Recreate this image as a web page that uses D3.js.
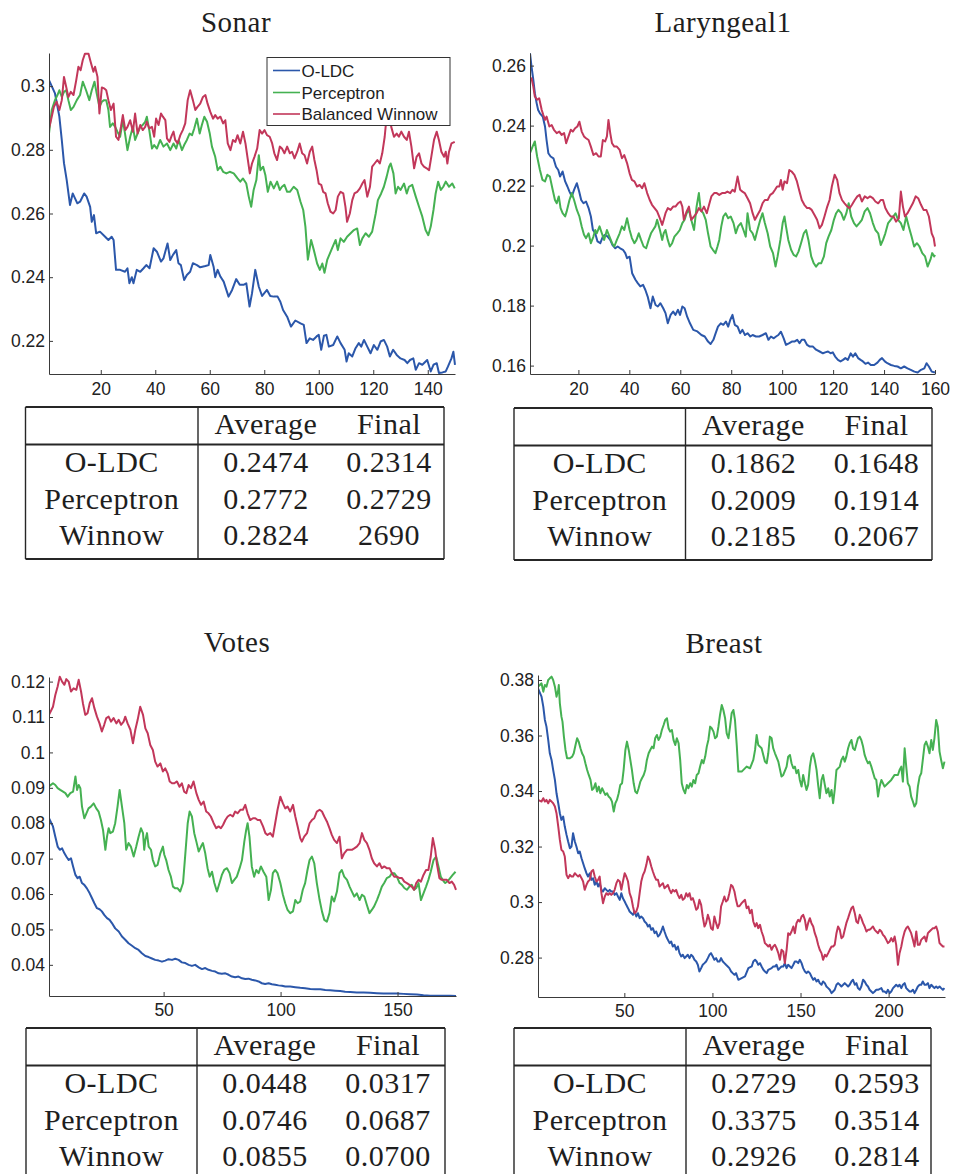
<!DOCTYPE html>
<html>
<head>
<meta charset="utf-8">
<script src="https://cdn.jsdelivr.net/npm/d3@7"></script>
<style>
  html, body { margin: 0; padding: 0; background: #fff; }
  svg { display: block; }
  .tick text { font-family: "Liberation Sans", Arial, sans-serif; font-size: 17.5px; fill: #222; }
  .tick line, .domain { stroke: #3a3a3a; }
</style>
</head>
<body>
<svg id="fig" width="954" height="1174"></svg>
<script>
// ---------- Series: [iteration, error rate] ----------
const sonarOLDC = [[1,.3019],[3.2,.2977],[4.8,.2904],[5.7,.283],[6.5,.2758],[7.5,.2705],[8.7,.2627],[9.7,.2663],[11.4,.2632],[12.4,.2637],[13.9,.2663],[14.8,.2653],[16.1,.2621],[16.7,.2574],[17.5,.2595],[18.3,.2538],[19.7,.2543],[21.6,.2527],[22.8,.2517],[24,.2527],[24.7,.2517],[25.6,.2423],[27.1,.2423],[28.9,.2417],[29.8,.2428],[30.5,.2381],[31.4,.24],[32,.2381],[33.2,.2423],[34.5,.2417],[35.7,.2428],[36.7,.2438],[37.9,.2428],[39.4,.2491],[40.6,.248],[42.1,.2449],[43,.2459],[44.5,.2506],[45.5,.2454],[46.5,.247],[47.7,.2485],[48.5,.2444],[49.4,.2438],[50.6,.2391],[51.6,.2407],[52.8,.2417],[53.8,.2444],[55.3,.2438],[56.5,.2431],[58.4,.2435],[59.6,.2438],[60.2,.247],[61.4,.2433],[62,.24],[62.9,.2423],[63.9,.2402],[65.1,.2386],[66.9,.2339],[68.2,.236],[69.7,.2394],[71,.2376],[72.4,.2376],[73.4,.2381],[74.6,.2308],[75.5,.2349],[76.7,.2423],[78,.237],[79.2,.2341],[81,.236],[82.2,.2341],[83.5,.2339],[84.9,.2339],[85.9,.2323],[86.9,.2297],[88.4,.2276],[89.8,.2245],[91.4,.2264],[93.3,.2255],[94.5,.225],[95.5,.2193],[96.7,.2208],[97.9,.2203],[99.2,.2214],[100,.2219],[100.9,.2172],[101.9,.2216],[102.8,.2219],[103.7,.2182],[105.3,.2187],[106.8,.2214],[108,.2193],[109.5,.2172],[110.2,.2135],[111,.2161],[112.3,.2151],[113.5,.2177],[114.7,.2193],[115.6,.2182],[116.6,.2203],[117.8,.2182],[119,.2161],[120.2,.2187],[121.5,.2172],[122.7,.2198],[123.9,.2203],[125.1,.2182],[126.1,.2151],[127.3,.2172],[128.6,.2156],[130,.2145],[131.5,.214],[132.5,.213],[133.5,.214],[134.7,.2145],[135.6,.2109],[136.8,.213],[138,.2125],[139.8,.214],[141.1,.2104],[142.1,.2125],[143.3,.213],[144.1,.2099],[145.4,.2101],[146.6,.2104],[147.4,.2119],[148.7,.2145],[149.4,.2166],[150,.2125]];
const sonarPerceptron = [[1,.2851],[2,.2925],[3.2,.2956],[4.1,.2972],[4.8,.2987],[5.7,.2966],[6.5,.2982],[7.3,.2987],[8.1,.2956],[9,.2925],[10,.2935],[11.2,.2956],[12.4,.2972],[13.4,.3014],[14.6,.2987],[15.8,.2956],[16.7,.2987],[17.7,.3014],[18.5,.2977],[19.5,.2935],[20.4,.2951],[21.2,.2956],[22,.2956],[22.8,.2925],[23.4,.2872],[24.4,.2883],[25.3,.2872],[26.1,.2857],[27.1,.2841],[28.1,.2893],[28.9,.2851],[29.8,.2799],[30.8,.2841],[31.8,.2872],[32.6,.2831],[33.5,.2851],[34.5,.2872],[35.4,.2878],[36.3,.2888],[36.9,.2904],[37.8,.2862],[38.8,.2804],[39.6,.2815],[40.6,.2804],[41.8,.2831],[43,.281],[44.3,.282],[45.5,.2799],[46.7,.282],[47.7,.2804],[48.6,.2831],[49.8,.2799],[50.6,.2815],[51.6,.2831],[52.6,.2851],[53.5,.2846],[54.3,.2867],[55.3,.2898],[56.3,.2851],[57.1,.2878],[58,.2904],[59,.2888],[60,.2851],[60.8,.281],[62,.2778],[62.9,.2736],[63.9,.2747],[64.9,.2731],[66.1,.2726],[67.3,.2731],[68.8,.2726],[70.2,.271],[71.2,.27],[72.2,.271],[73.4,.2694],[74.3,.2653],[75.2,.2621],[76.1,.2674],[77.1,.2705],[78,.2783],[78.6,.2736],[79.6,.2747],[80.4,.2721],[81.3,.2668],[82.3,.27],[83.5,.2679],[84.7,.27],[85.7,.2674],[86.5,.2684],[87.4,.269],[88.4,.2668],[89.4,.2668],[90.8,.2684],[92.1,.2674],[93.3,.2637],[94.3,.2611],[95.1,.2559],[96,.2455],[97.2,.2517],[98.2,.2485],[99.4,.2443],[100.4,.2423],[101.3,.2443],[102.1,.2414],[103.1,.2454],[104.1,.2475],[104.9,.2491],[106.2,.2517],[107,.2485],[108,.2522],[109.2,.2511],[110.4,.2527],[111.7,.2538],[112.9,.2548],[114.1,.2553],[115.1,.2501],[116,.2522],[117.2,.2538],[118.4,.2527],[119.6,.2543],[120.9,.26],[121.7,.2642],[122.9,.2663],[123.9,.2684],[124.9,.2715],[125.8,.2747],[126.4,.2757],[127.4,.2726],[128.2,.2663],[129.1,.2684],[130,.2674],[131.3,.2694],[132.3,.2663],[133.1,.2684],[134.3,.269],[135.6,.2653],[136.8,.2621],[138,.259],[139.2,.2548],[140.2,.2532],[141.1,.2559],[142.1,.2611],[142.9,.2663],[143.8,.27],[144.8,.2674],[145.7,.2684],[146.6,.27],[147.8,.2684],[149,.2694],[149.9,.2679]];
const sonarWinnow = [[1,.2867],[2,.2904],[2.8,.2935],[3.8,.2951],[4.8,.2925],[5.7,.2956],[6.5,.3029],[7.3,.2998],[8.1,.2966],[9,.2982],[10,.2972],[11,.3019],[11.8,.3061],[12.6,.305],[13.4,.3082],[14.2,.3102],[15.5,.3102],[16.3,.3076],[17.3,.3045],[17.9,.3061],[18.8,.3029],[19.5,.2914],[20.4,.2996],[21.2,.2993],[22,.2987],[22.8,.2956],[23.7,.2925],[24.7,.2945],[25.6,.2841],[26.5,.2831],[27.4,.2872],[28.1,.2909],[29,.2862],[29.8,.2872],[30.8,.2893],[31.8,.2857],[32.6,.2914],[33.5,.2851],[34.5,.2878],[35.4,.2862],[36.3,.2872],[36.9,.2888],[37.8,.2867],[38.8,.2872],[39.6,.2841],[40.3,.2898],[41.2,.2878],[42.1,.2914],[42.8,.2904],[43.7,.2893],[44.3,.2836],[45.2,.2825],[46.1,.2846],[46.7,.2857],[47.3,.2831],[48.2,.282],[49.2,.2846],[50.1,.2862],[51,.2883],[51.9,.2956],[52.8,.2987],[53.8,.2956],[54.7,.2925],[55.5,.2935],[56.5,.2945],[57.5,.2966],[58.4,.2972],[59.2,.2945],[60.2,.2919],[61.2,.2898],[62,.2909],[62.9,.2898],[63.9,.2904],[64.9,.2883],[65.7,.2893],[66.6,.282],[67.6,.2799],[68.5,.2831],[69.4,.2825],[70.2,.2846],[71.2,.282],[72.2,.2857],[73.1,.282],[73.9,.2773],[74.7,.2726],[75.5,.2757],[76.4,.2778],[77.4,.2804],[78.3,.2862],[79.2,.2851],[80.1,.2862],[81,.2846],[82,.2841],[82.9,.282],[83.7,.2789],[84.7,.2768],[85.7,.281],[86.5,.2804],[87.4,.2789],[88.4,.281],[89.4,.2789],[90.2,.2794],[91.1,.2773],[92.1,.2794],[93,.282],[93.9,.2789],[94.8,.2783],[95.7,.2757],[96.7,.2794],[97.6,.281],[98.4,.2768],[99.2,.2736],[100,.2694],[100.9,.269],[101.6,.2668],[102.5,.2663],[103.3,.2632],[104.3,.2606],[105.3,.26],[106.2,.2611],[107,.2653],[108,.2668],[109,.2663],[109.8,.2621],[110.4,.2574],[111.4,.26],[112.3,.2642],[113.1,.2663],[114.1,.2668],[115.1,.2679],[116,.2694],[116.8,.2705],[117.8,.2653],[118.8,.2684],[119.6,.2747],[120.5,.2757],[121.5,.2768],[122.4,.2757],[123.3,.2789],[124.2,.2841],[124.9,.2904],[125.8,.2919],[126.6,.2872],[127.6,.2841],[128.6,.2851],[129.4,.2841],[130.3,.2857],[131.3,.2841],[132.3,.2831],[133.1,.2857],[134,.281],[135,.2742],[135.9,.2778],[136.8,.2789],[137.7,.2757],[138.6,.2747],[139.6,.2742],[140.5,.2736],[141.3,.2778],[142.3,.2831],[143.3,.2857],[144.1,.2831],[145,.2794],[146,.2778],[146.6,.2794],[147.2,.2757],[147.8,.2794],[148.7,.282],[149.9,.2825]];

const laryngealOLDC = [[1,.2641],[1.6,.2597],[2.3,.2552],[2.9,.2508],[3.6,.2475],[4.2,.2452],[4.9,.2441],[6,.243],[6.9,.2397],[7.5,.2352],[8.2,.2308],[9.1,.2297],[10.2,.2291],[11.2,.2263],[12.1,.2252],[12.8,.223],[13.8,.2247],[14.8,.2214],[15.7,.2197],[16.5,.218],[17.4,.2164],[18.3,.2186],[19.4,.2208],[20.3,.218],[21.1,.2152],[22,.2141],[23,.2147],[24,.2125],[24.9,.2097],[25.7,.2052],[26.6,.2041],[27.5,.2014],[28.6,.2008],[29.6,.203],[30.5,.2036],[31.5,.203],[32.5,.2019],[33.4,.2002],[34.5,.1991],[35.4,.1997],[36.4,.1991],[37.5,.1986],[38.4,.1975],[39.1,.1958],[40.1,.1963],[41.1,.1908],[42.4,.1886],[43.3,.1875],[44.3,.1864],[45.4,.1869],[46.3,.1852],[47.2,.183],[48.3,.1791],[49.2,.183],[50.3,.1802],[51.2,.1797],[52.2,.1808],[53.3,.1791],[54.2,.1775],[55.1,.1741],[56.2,.1769],[57.2,.178],[58.1,.1769],[59.1,.1786],[59.9,.1769],[60.8,.1797],[61.7,.1791],[62.7,.1763],[63.8,.1741],[65.1,.1719],[66.7,.1714],[68.3,.1702],[69.6,.1697],[70.9,.168],[71.9,.1672],[73,.1686],[73.9,.1708],[74.8,.173],[75.9,.1741],[76.9,.1736],[77.9,.1747],[78.8,.173],[79.6,.1752],[80.5,.1769],[81.4,.1736],[82.5,.173],[83.5,.1708],[84.4,.1719],[85.4,.1702],[86.4,.1708],[87.5,.1697],[88.4,.1702],[89.7,.1697],[91,.1697],[92.3,.1702],[93.6,.1708],[94.6,.1686],[95.6,.1697],[96.7,.1691],[97.6,.1697],[98.5,.1702],[99.5,.1713],[100.6,.1691],[101.5,.1669],[102.8,.1675],[103.8,.168],[104.8,.168],[105.9,.1686],[106.8,.1675],[107.7,.1686],[108.7,.1686],[109.8,.1669],[110.7,.1664],[112,.1664],[113.3,.1653],[114.7,.1647],[116,.1641],[116.9,.1644],[118,.1647],[119,.1641],[119.9,.1644],[120.8,.163],[121.9,.1619],[122.9,.1614],[123.9,.1619],[124.8,.1625],[125.8,.1619],[126.9,.1641],[127.8,.163],[128.7,.1641],[129.8,.1625],[130.8,.1619],[131.7,.1614],[132.7,.1606],[133.7,.161],[134.8,.1602],[136.1,.1602],[137.4,.161],[138.3,.1619],[139.2,.1625],[140.3,.1614],[141.3,.1608],[142.7,.1602],[144,.1599],[145.3,.1597],[146.6,.1591],[147.9,.1597],[149.2,.1591],[150.5,.1586],[151.9,.158],[153.2,.1577],[154.5,.1586],[155.8,.1591],[156.7,.1608],[157.6,.1597],[158.7,.158],[160,.1577]];
const laryngealPerceptron = [[1,.2308],[2,.233],[2.9,.2347],[3.8,.2297],[4.9,.2252],[5.9,.2219],[6.9,.2214],[7.8,.2236],[8.8,.223],[9.9,.2186],[10.8,.2152],[11.5,.2141],[12.3,.2164],[13,.2125],[13.8,.2108],[14.8,.2097],[15.4,.2114],[16.5,.2152],[17.4,.2175],[18.3,.2152],[19.4,.2119],[20.4,.2097],[21.3,.2064],[22.2,.2036],[23,.2025],[24,.2041],[24.9,.2008],[25.9,.203],[26.6,.2052],[27.2,.2041],[28.3,.2064],[29.2,.2041],[30.1,.2019],[31.2,.2052],[32.2,.203],[33.2,.2008],[34.1,.1997],[35.1,.2019],[36.2,.2041],[37.1,.2064],[38,.2052],[39.1,.2091],[40.1,.2052],[41,.2025],[42,.2008],[42.8,.2019],[43.7,.2041],[44.6,.2019],[45.6,.1997],[46.6,.1991],[47.6,.2019],[48.5,.2041],[49.3,.2052],[50.2,.2064],[50.9,.2086],[52,.2052],[52.9,.2019],[53.5,.2041],[54.2,.2052],[55.1,.2019],[55.9,.1997],[56.8,.2008],[57.7,.203],[58.8,.2041],[59.8,.2052],[60.8,.2075],[61.7,.2086],[62.5,.2108],[63.4,.2119],[64.3,.2086],[65.4,.2052],[66.4,.213],[67.3,.2175],[68,.2119],[69,.2108],[70,.2086],[70.9,.2041],[71.9,.1997],[72.8,.1986],[73.8,.1975],[74.6,.1997],[75.3,.2019],[76.1,.2064],[76.9,.2097],[77.8,.2108],[78.8,.2091],[79.8,.2097],[80.9,.2075],[81.8,.2041],[82.7,.2064],[83.8,.2075],[84.8,.2052],[85.7,.203],[86.4,.2108],[87.4,.2052],[88.4,.2041],[89.3,.2019],[90.3,.2052],[91.4,.2086],[92.3,.2108],[93.2,.2075],[94.3,.2041],[95.3,.1997],[96.4,.1975],[97.4,.193],[98.2,.1964],[99.3,.2019],[100.2,.2075],[100.9,.2097],[101.5,.2064],[102.4,.2019],[103.5,.1986],[104.5,.1969],[105.5,.1964],[106.4,.198],[107.4,.2008],[108.5,.2041],[109.4,.2052],[110.3,.2019],[111.4,.1964],[112.4,.1941],[113.3,.193],[114.3,.1941],[115.3,.1941],[116.4,.1964],[117.3,.2008],[118.2,.203],[119.3,.2052],[120.3,.2086],[121.2,.2108],[122.1,.2119],[123.2,.2108],[124.2,.2086],[125.2,.2108],[126.1,.2141],[127.1,.2097],[128.2,.2075],[129.2,.2064],[130.3,.2075],[131.3,.2086],[132.4,.2114],[133.5,.2125],[134.5,.2108],[135.6,.2075],[136.6,.2052],[137.7,.2041],[138.7,.2002],[139.6,.2019],[140.5,.2041],[141.6,.2075],[142.6,.2086],[143.6,.2097],[144.5,.2108],[145.5,.2086],[146.6,.2075],[147.6,.2052],[148.7,.2097],[149.7,.2064],[150.8,.203],[151.8,.1997],[152.9,.2008],[153.9,.1997],[155,.1975],[156.1,.1964],[157.1,.193],[158.2,.1953],[158.9,.1975],[159.7,.1964],[160,.1969]];
const laryngealWinnow = [[1,.2552],[1.6,.2558],[2.3,.253],[2.9,.2497],[3.8,.2486],[4.6,.2491],[5.6,.2452],[6.2,.2436],[6.9,.2419],[7.5,.243],[8.6,.2397],[9.5,.2402],[10.4,.2386],[11.5,.2375],[12.5,.238],[13.4,.2369],[14.4,.2375],[15.2,.2341],[16.1,.2364],[17,.2386],[17.8,.238],[18.7,.2391],[19.6,.2397],[20.4,.2413],[21.3,.238],[22.2,.2364],[23,.2358],[24,.2352],[24.9,.233],[25.9,.2302],[27,.2308],[27.9,.2297],[28.8,.2297],[29.6,.2352],[30.5,.2347],[31.2,.2364],[31.8,.2419],[32.5,.2375],[33.2,.2341],[34.1,.233],[35.1,.233],[36.2,.2319],[37.1,.2291],[38,.2302],[39.1,.2275],[40.1,.2241],[41,.2219],[42,.2214],[43,.2197],[44.1,.2202],[45,.2191],[45.9,.2208],[47,.2175],[48,.2152],[48.9,.2136],[49.9,.2125],[50.9,.2114],[52,.2091],[52.9,.2069],[53.5,.2086],[54.2,.2108],[55.1,.2125],[56.2,.2119],[57.2,.213],[58.1,.213],[59.1,.2141],[60.1,.2147],[60.8,.213],[61.4,.2086],[62.5,.2114],[63.4,.213],[64.3,.2086],[65.4,.2097],[66.4,.2108],[67.3,.2125],[68.3,.2114],[69.3,.213],[70.4,.2108],[71.3,.2136],[72.2,.2164],[73.3,.2175],[74.3,.2175],[75.3,.2169],[76.4,.2175],[77.5,.2175],[78.5,.218],[79.6,.2175],[80.5,.2186],[81.4,.218],[82.5,.223],[83.5,.2186],[84.4,.218],[85.3,.2175],[86.4,.2158],[87.4,.2141],[88.4,.2108],[89.3,.2086],[90.3,.2102],[91.4,.2119],[92.3,.2141],[93.2,.2152],[94.3,.2152],[95.3,.2169],[96.3,.2175],[97.2,.2186],[98,.2197],[98.9,.2197],[99.5,.2219],[100.2,.2186],[100.9,.2214],[101.9,.2208],[102.8,.2252],[103.7,.2247],[104.8,.2236],[105.8,.2214],[106.8,.218],[107.7,.2152],[108.7,.2136],[109.8,.2125],[110.7,.2125],[111.6,.2119],[112.7,.2102],[113.7,.2086],[114.7,.2058],[115.6,.2069],[116.6,.2097],[117.7,.213],[118.6,.2152],[119.5,.2197],[120.6,.2236],[121.6,.2219],[122.5,.2175],[123.5,.2152],[124.5,.2141],[125.6,.213],[126.5,.2125],[127.4,.2136],[128.5,.2152],[129.5,.2164],[130.4,.2169],[131.3,.2147],[132.4,.2164],[133.5,.2158],[134.5,.2164],[135.6,.2158],[136.6,.2147],[137.7,.2141],[138.7,.2152],[139.6,.2152],[140.5,.2125],[141.6,.2108],[142.6,.2097],[143.7,.2097],[144.7,.208],[145.8,.2091],[146.6,.218],[147.4,.213],[148.2,.2097],[149.2,.2108],[150.3,.2125],[151.3,.2141],[152.4,.2164],[153.4,.2158],[154.5,.2136],[155.5,.2119],[156.6,.2119],[157.6,.2097],[158.7,.2041],[159.5,.2025],[160,.1997]];

const votesOLDC = [[1,.0814],[2.7,.0791],[3.7,.0762],[4.7,.0734],[5.6,.0725],[6.6,.0729],[7.6,.0715],[8.4,.0706],[9.4,.0696],[10.4,.0701],[11.3,.0678],[12.3,.0654],[13.2,.0645],[14.1,.0649],[15.1,.0631],[16.1,.0626],[17.2,.0616],[18.4,.0602],[19.4,.0588],[20.4,.0574],[21.5,.056],[22.6,.0557],[23.6,.0551],[24.6,.0541],[25.8,.0532],[26.9,.0527],[27.9,.0518],[29.3,.0503],[30.8,.0494],[32.2,.048],[33.6,.0471],[35,.0461],[36.5,.0454],[37.9,.0447],[39.3,.0442],[40.7,.0433],[42.2,.0425],[43.6,.0422],[45,.0418],[46.4,.0414],[47.9,.0412],[49.3,.0409],[50.7,.0412],[52.1,.0416],[53.6,.0414],[55,.0417],[56.4,.0414],[57.8,.0407],[59.3,.0405],[60.7,.04],[62.1,.0397],[63.5,.04],[65,.0393],[66.4,.0388],[67.8,.0391],[69.2,.0386],[70.7,.0383],[72.1,.0381],[73.5,.0376],[74.9,.0375],[76.4,.0376],[77.8,.0372],[79.2,.0367],[80.6,.0365],[82,.0367],[83.5,.0362],[84.9,.036],[86.3,.0361],[87.7,.0358],[89.2,.0356],[90.6,.0353],[92,.0348],[93.4,.0346],[94.9,.0348],[96.3,.0345],[97.7,.0344],[99.1,.0342],[100.6,.0341],[102,.0339],[104.1,.0339],[106.3,.0337],[108.4,.0335],[110.5,.0334],[112.7,.0332],[114.8,.0331],[117,.0331],[119.1,.0329],[121.2,.0328],[123.4,.0327],[125.5,.0326],[127.6,.0324],[129.8,.0323],[132.6,.0322],[135.5,.0322],[138.3,.0321],[141.2,.032],[144,.0319],[146.9,.0319],[149.7,.0319],[152.6,.0318],[155.4,.0317],[158.3,.0316],[161.1,.0314],[164,.0313],[166.8,.0313],[169.7,.0313],[172.5,.0313],[175,.0312]];
const votesPerceptron = [[1,.0904],[2.7,.0913],[3.7,.0908],[4.7,.0899],[5.8,.0894],[7,.0889],[8,.0885],[9,.0875],[10.1,.0885],[11.3,.0889],[12.3,.0932],[13,.0894],[13.7,.0908],[14.4,.0899],[15.1,.0847],[16.1,.0814],[17,.0828],[17.9,.0842],[18.9,.0847],[20.1,.0856],[21.2,.0842],[22.2,.0833],[23.2,.0809],[24.1,.0781],[25.1,.0725],[25.8,.0762],[26.5,.0786],[27.2,.0772],[28.3,.0776],[29.3,.08],[30.3,.0847],[31.2,.0894],[32.2,.0847],[33.2,.08],[34,.0725],[35,.0744],[36,.0734],[37.2,.0706],[38.3,.0734],[39.3,.0762],[40.3,.0786],[41.2,.0772],[41.7,.0725],[42.2,.0753],[42.9,.0772],[43.6,.0734],[44.6,.0725],[45.4,.0696],[46.4,.0678],[47.4,.0682],[48.6,.0715],[49.7,.0734],[50.3,.0711],[51.1,.0696],[52.1,.0668],[53.1,.0649],[54,.0621],[55,.0616],[56,.0616],[57.1,.0607],[58.3,.0631],[59.3,.0715],[60.3,.08],[61.1,.0833],[62.1,.0819],[63.1,.0772],[64,.0748],[65,.072],[66,.0734],[66.8,.0744],[67.8,.0715],[68.8,.0673],[69.7,.0649],[70.7,.0663],[71.7,.0631],[72.8,.0607],[73.9,.0631],[74.9,.0654],[75.9,.0668],[77.1,.0673],[78.2,.0659],[79.2,.0631],[80.2,.064],[81.3,.0649],[82.5,.0673],[83.5,.0696],[84.5,.0748],[85.3,.0781],[85.9,.08],[86.7,.0762],[87.7,.0678],[88.7,.0649],[89.6,.0668],[90.6,.0659],[91.6,.0678],[92.7,.0663],[93.9,.0649],[94.9,.0583],[95.9,.0612],[96.7,.0659],[97.7,.0668],[98.7,.0659],[99.9,.0631],[101,.0598],[102,.0574],[103,.0555],[104.1,.0546],[105.3,.0551],[106.3,.0583],[107.3,.0574],[108.4,.0579],[109.5,.0612],[110.5,.0631],[111.5,.0668],[112.4,.0696],[113.4,.0706],[114.4,.0687],[115.5,.0631],[116.7,.0583],[117.7,.0551],[118.7,.0527],[119.8,.0522],[120.9,.0546],[121.9,.0593],[122.9,.0579],[124.1,.0607],[125.2,.0659],[126.2,.0668],[127.2,.0649],[128.4,.064],[129.5,.0621],[130.5,.0607],[131.5,.0593],[132.6,.0602],[133.8,.0583],[134.8,.0598],[135.8,.0593],[136.9,.0569],[138,.0546],[139,.0555],[140,.0565],[141.2,.0583],[142.3,.0602],[143.3,.0621],[144.3,.0631],[145.4,.0645],[146.6,.0649],[147.6,.0659],[148.6,.0659],[149.7,.0649],[150.9,.0631],[151.9,.0626],[152.9,.0617],[154,.0612],[155.1,.0621],[156.1,.0626],[157.1,.0612],[158,.0617],[159,.0631],[160,.0583],[161.1,.0602],[162.2,.0621],[163.2,.064],[164.2,.0663],[165.4,.0696],[166.5,.0706],[167.5,.0678],[168.5,.0649],[169.7,.0636],[170.4,.0631],[171.4,.0636],[172.5,.0645],[173.6,.0654],[174.8,.0663]];
const votesWinnow = [[1,.1106],[2.7,.1129],[3.7,.1162],[4.7,.1186],[5.6,.1214],[6.6,.12],[7.6,.1191],[8.4,.1207],[9.4,.12],[10.4,.1172],[11.5,.1181],[12.7,.1177],[13.7,.1205],[14.7,.1172],[15.5,.1139],[16.5,.1106],[17.5,.1111],[18.4,.1139],[19.4,.1153],[20.4,.1125],[21.5,.1101],[22.6,.1082],[23.6,.1059],[24.6,.1078],[25.5,.1097],[26.5,.1101],[27.5,.1087],[28.6,.1097],[29.8,.1082],[30.8,.1092],[31.8,.1078],[32.9,.1087],[33.6,.1101],[34.6,.1082],[35.8,.1064],[36.9,.1026],[37.9,.1064],[38.9,.1092],[40,.1129],[41.2,.1106],[42.2,.1068],[43.2,.1054],[44.3,.1021],[45.4,.1007],[46.4,.0974],[47.4,.096],[48.6,.0969],[49.7,.0946],[50.7,.0955],[51.7,.0941],[52.6,.0918],[53.6,.0913],[54.6,.0913],[55.7,.0918],[56.8,.0903],[57.8,.0913],[58.8,.0889],[59.7,.0885],[60.7,.0908],[61.7,.0899],[62.8,.0918],[64,.0885],[65,.0866],[66,.0852],[67.1,.0861],[68.2,.0833],[69.2,.0828],[70.2,.0819],[71.4,.08],[72.5,.0786],[73.5,.0791],[74.5,.0786],[75.4,.0795],[76.4,.0809],[77.4,.0819],[78.5,.0824],[79.6,.0819],[80.6,.0833],[81.6,.0828],[82.8,.0838],[83.9,.0838],[84.9,.0852],[85.9,.0828],[87,.0809],[88.2,.0814],[89.2,.0814],[90.2,.0809],[91.3,.0809],[92.5,.0791],[93.5,.0772],[94.4,.0767],[95.6,.0772],[96.7,.0762],[97.7,.08],[98.7,.0838],[99.9,.0875],[101,.0856],[102,.0842],[103,.0847],[104.1,.0833],[105.3,.0852],[106.3,.0819],[107.3,.0791],[108.4,.0758],[109.1,.0748],[110.1,.0762],[111.3,.0772],[112.4,.08],[113.4,.0809],[114.4,.0814],[115.5,.0833],[116.7,.0838],[117.7,.0833],[118.7,.0819],[119.8,.0805],[120.9,.0786],[121.9,.0767],[122.9,.0753],[124.1,.0744],[125.2,.0762],[126.2,.0701],[127.2,.0715],[128.4,.0725],[129.5,.0725],[130.5,.0725],[131.5,.0729],[132.6,.0734],[133.8,.0744],[134.8,.0772],[135.8,.0753],[136.9,.0744],[138,.0725],[139,.0701],[140,.0687],[141.2,.0678],[142.3,.0687],[143.3,.0673],[144.3,.0678],[145.4,.0673],[146.6,.0673],[147.6,.0659],[148.6,.0649],[149.7,.0649],[150.9,.0645],[151.9,.0645],[152.9,.0635],[154,.0631],[155.1,.0626],[156.1,.0621],[157.1,.0612],[158,.0631],[159,.064],[160,.0635],[161.1,.0654],[162.2,.0668],[163.2,.0668],[164.2,.0706],[165.1,.0758],[166.1,.0725],[166.8,.0687],[167.9,.0645],[168.9,.064],[170,.064],[171.1,.064],[172.2,.0631],[173.2,.0635],[174.2,.0626],[175,.0612]];

const breastOLDC = [[1,.377],[3,.374],[4,.3704],[4.9,.3656],[5.8,.3632],[6.8,.3584],[7.7,.3536],[8.7,.3512],[9.6,.3476],[10.6,.344],[11.5,.3392],[12.5,.3356],[13.4,.332],[14.3,.3296],[15.3,.3308],[16.2,.3272],[17.2,.3242],[18.1,.3218],[19.1,.3194],[20,.32],[20.9,.3248],[21.9,.3218],[22.8,.32],[23.8,.3176],[24.7,.3182],[25.7,.3158],[26.6,.314],[27.5,.3122],[28.5,.3104],[29.4,.3092],[30.4,.3104],[31.3,.308],[32.3,.3086],[33.2,.3062],[34.2,.3074],[35.1,.3056],[36,.3068],[37,.3044],[37.9,.3038],[38.9,.305],[39.8,.3044],[40.8,.3038],[41.7,.3044],[42.6,.3038],[43.6,.3038],[44.5,.3026],[45.5,.3032],[46.4,.302],[47.4,.3008],[48.3,.3032],[49.2,.3014],[50.2,.3002],[51.1,.299],[52.1,.2978],[53,.2966],[54,.296],[54.9,.2954],[55.8,.2966],[56.8,.2948],[57.7,.296],[58.7,.2942],[59.6,.2948],[60.6,.2942],[61.5,.293],[62.5,.2924],[63.4,.2912],[64.3,.2918],[65.3,.29],[66.2,.2906],[67.2,.2888],[68.1,.2894],[69.1,.2876],[70,.2882],[70.9,.2894],[71.9,.2912],[72.8,.2894],[73.8,.2876],[74.7,.2864],[75.7,.2852],[76.6,.2858],[77.5,.284],[78.5,.2846],[79.4,.2828],[80.4,.284],[81.3,.2816],[82.3,.2804],[83.2,.281],[84.2,.2798],[85.1,.2804],[86,.281],[87,.2798],[87.9,.281],[88.9,.2804],[89.8,.2792],[90.8,.2786],[91.7,.2774],[92.6,.275],[93.6,.2762],[94.5,.2774],[95.5,.278],[96.4,.2786],[97.4,.2798],[98.3,.281],[99.2,.2816],[100.2,.2804],[101.1,.2792],[102.1,.2798],[103,.2786],[104,.2786],[104.9,.2798],[105.9,.2786],[106.8,.278],[107.7,.2774],[108.7,.2768],[109.6,.2762],[110.6,.275],[111.5,.2744],[112.5,.2738],[113.4,.2744],[114.7,.272],[116.6,.2726],[118.5,.2732],[120.4,.2762],[122.3,.2768],[123.2,.2786],[124.2,.2792],[125.1,.2786],[126,.2774],[127,.278],[127.9,.2768],[128.9,.2756],[129.8,.275],[130.8,.2744],[131.7,.2756],[133.6,.2762],[134.5,.2768],[135.5,.2768],[136.4,.2774],[137.4,.2756],[138.3,.2762],[139.2,.2768],[140.2,.2768],[141.1,.278],[142.1,.2762],[143,.2774],[144,.2768],[144.9,.2762],[145.9,.2774],[146.8,.2786],[147.7,.2786],[148.7,.278],[149.6,.2792],[150.6,.278],[151.5,.2762],[152.5,.275],[153.4,.2744],[154.3,.275],[155.3,.2744],[156.2,.2732],[157.2,.272],[158.1,.2726],[159.1,.2714],[160,.272],[160.9,.2708],[161.9,.2702],[162.8,.2714],[163.8,.2708],[164.7,.2696],[165.7,.269],[166.6,.2684],[167.6,.2672],[168.5,.2678],[169.4,.2684],[170.4,.2702],[171.3,.2708],[172.3,.2702],[173.2,.2696],[174.2,.2702],[175.1,.2708],[177,.2696],[177.9,.2702],[178.9,.2714],[179.8,.272],[180.8,.2702],[181.7,.2708],[182.6,.269],[183.6,.2684],[184.5,.2696],[185.5,.272],[186.4,.2714],[187.4,.2702],[188.3,.2696],[189.2,.2684],[190.2,.2678],[191.1,.2672],[192.1,.2678],[193,.2684],[194,.2684],[195.9,.269],[196.8,.2678],[197.7,.2678],[198.7,.2672],[199.6,.2684],[200.6,.2672],[201.5,.2678],[202.5,.269],[203.4,.2696],[204.3,.2702],[205.3,.2696],[206.2,.2702],[207.2,.269],[208.1,.2702],[209.1,.2708],[210,.269],[210.9,.2684],[211.9,.2678],[212.8,.2678],[213.8,.2684],[214.7,.2672],[215.7,.2684],[216.6,.2696],[217.6,.2702],[218.5,.2702],[219.4,.2714],[220.4,.2702],[221.3,.2702],[222.3,.2708],[223.2,.269],[224.2,.2702],[225.1,.2696],[226,.269],[227,.2696],[227.9,.269],[228.9,.2696],[229.8,.269],[230.8,.2684],[231.7,.269]];
const breastPerceptron = [[1,.3776],[3,.3788],[4,.3758],[4.9,.3782],[5.8,.3776],[6.8,.38],[7.7,.3806],[8.7,.3812],[9.6,.38],[10.6,.3776],[11.5,.374],[12.5,.3764],[12.8,.3782],[13.4,.3716],[14.3,.3668],[14.9,.365],[15.7,.3596],[16.6,.3548],[17.5,.3518],[19.1,.3518],[20.4,.3524],[21.3,.3536],[22.3,.3566],[23.2,.359],[24.1,.3578],[25.1,.3554],[26,.3536],[27,.3524],[27.9,.35],[28.9,.3476],[29.8,.3458],[30.8,.344],[31.7,.3404],[32.6,.341],[33.6,.3428],[34.5,.3398],[35.5,.3416],[36.4,.3392],[37.4,.341],[38.3,.3398],[39.2,.3386],[40.2,.3392],[41.1,.338],[42.1,.3374],[43,.3362],[44,.3326],[44.9,.3356],[45.8,.3368],[46.8,.3392],[47.7,.3422],[48.7,.3428],[49.6,.3476],[50.6,.3548],[51.5,.3578],[52.5,.3548],[53.4,.3512],[54.3,.3476],[55.3,.3428],[56.2,.3398],[57.2,.3392],[58.1,.341],[59.1,.3434],[60,.3446],[61,.3458],[61.9,.3476],[62.8,.3512],[63.8,.3536],[64.7,.3548],[65.7,.356],[66.6,.3554],[67.5,.359],[68.5,.3602],[69.4,.3584],[70.4,.3596],[71.3,.362],[72.3,.3638],[73.2,.3656],[74.2,.3662],[75.1,.3626],[76,.3614],[77,.362],[77.9,.3584],[78.9,.3566],[79.8,.359],[80.8,.3572],[81.7,.3512],[82.6,.3428],[83.6,.3404],[84.5,.3392],[85.5,.3422],[86.4,.341],[87.4,.3428],[88.3,.3416],[89.2,.344],[90.2,.3428],[91.1,.3458],[92.1,.3464],[93,.3488],[94,.3512],[94.9,.35],[95.9,.3524],[96.8,.356],[97.7,.3584],[98.7,.3632],[99.6,.3626],[100.6,.3614],[101.5,.359],[102.5,.3596],[103.4,.3632],[104.3,.3674],[105.3,.371],[106.2,.3692],[107.2,.3662],[108.1,.3608],[109.1,.359],[110,.3632],[110.9,.368],[111.9,.3692],[112.8,.3656],[113.8,.3566],[114.7,.347],[116.6,.347],[119.4,.3488],[121.3,.3482],[123.2,.3512],[124.2,.3548],[125.1,.3602],[126,.3566],[127.9,.3554],[129.8,.3506],[130.8,.35],[131.7,.3536],[132.6,.3596],[133.6,.359],[134.5,.3554],[135.5,.3536],[137.4,.3506],[139.2,.3452],[140.2,.3458],[142.1,.3488],[143,.3524],[144,.353],[144.9,.35],[145.9,.3482],[146.8,.3488],[147.7,.3464],[148.7,.3476],[149.6,.344],[150.6,.3416],[151.5,.3458],[152.5,.3428],[153.4,.3404],[154.3,.3422],[155.3,.3488],[156.2,.3524],[157.2,.3536],[158.1,.3512],[159.1,.3476],[160,.3422],[160.9,.3374],[161.9,.344],[162.8,.3458],[163.8,.3422],[164.7,.3392],[165.7,.341],[166.6,.338],[167.6,.3404],[168.5,.3356],[169.4,.3404],[170.4,.3476],[172.3,.3488],[173.2,.3512],[174.2,.3524],[175.1,.3506],[176,.3524],[177,.3554],[177.9,.3572],[178.9,.3584],[179.8,.3554],[180.8,.3548],[182.6,.359],[183.6,.3596],[184.5,.3584],[185.5,.356],[186.4,.353],[187.4,.3512],[188.3,.35],[189.2,.3506],[190.2,.3488],[192.1,.3446],[193,.344],[194,.338],[194.9,.3416],[195.9,.344],[196.8,.3428],[197.7,.3416],[199.6,.3428],[201.5,.344],[203.4,.3458],[205.3,.3458],[206.2,.3476],[207.2,.3488],[208.1,.3434],[209.1,.3554],[210,.3488],[210.9,.3428],[211.9,.3416],[212.8,.338],[213.8,.3362],[214.7,.3344],[215.7,.3356],[216.6,.3416],[217.6,.3452],[218.5,.3464],[219.4,.3512],[220.4,.3566],[221.3,.3578],[222.3,.356],[223.2,.3536],[224.2,.3584],[225.1,.3548],[226,.359],[227,.3656],[227.9,.3632],[228.9,.3542],[229.8,.3512],[230.8,.3482],[231.7,.3506]];
const breastWinnow = [[1,.3368],[3,.3362],[4,.3374],[4.9,.3362],[5.8,.3368],[6.8,.3356],[7.7,.3368],[8.7,.3362],[9.6,.3356],[10.6,.3344],[11.5,.332],[12.5,.3272],[13.4,.3224],[14.3,.3188],[15.3,.3182],[16.2,.3164],[17.2,.3098],[18.1,.3086],[19.1,.3098],[20,.3092],[20.9,.3092],[21.9,.3104],[22.8,.3098],[23.8,.3092],[24.7,.3098],[25.7,.3086],[26.6,.3074],[27.5,.3044],[28.5,.3062],[29.4,.3074],[30.4,.308],[31.3,.311],[32.3,.3116],[33.2,.3092],[34.2,.3074],[35.1,.308],[36,.3092],[37,.3032],[37.9,.2996],[38.9,.302],[39.8,.3032],[40.8,.3026],[41.7,.3032],[42.6,.3026],[43.6,.3032],[44.5,.3044],[45.5,.3068],[46.4,.308],[47.4,.3074],[48.3,.3044],[49.2,.3074],[50.2,.3104],[51.1,.3092],[52.1,.3074],[53,.3032],[54,.3014],[54.9,.2984],[55.8,.296],[56.8,.2966],[57.7,.2984],[58.7,.3032],[59.6,.3074],[60.6,.3098],[61.5,.311],[62.5,.3134],[63.4,.3164],[64.3,.3152],[65.3,.3128],[66.2,.311],[67.2,.3092],[68.1,.308],[69.1,.308],[70,.3056],[70.9,.3062],[71.9,.3068],[72.8,.305],[73.8,.3056],[74.7,.3062],[75.7,.3044],[76.6,.3032],[77.5,.3044],[78.5,.3038],[79.4,.3044],[80.4,.3026],[81.3,.3014],[82.3,.3026],[83.2,.3008],[84.2,.3014],[85.1,.3032],[86,.302],[87,.3032],[87.9,.3008],[88.9,.3014],[89.8,.2996],[90.8,.2972],[91.7,.2978],[92.6,.3008],[93.6,.299],[94.5,.2948],[95.5,.2912],[96.4,.2924],[97.4,.2954],[98.3,.2936],[99.2,.2906],[100.2,.29],[101.1,.2948],[102.1,.2924],[103,.2906],[104,.2924],[104.9,.2984],[105.9,.3002],[106.8,.302],[107.7,.3002],[108.7,.3008],[109.6,.3032],[110.6,.3062],[111.5,.3056],[112.5,.3038],[113.4,.3008],[114.3,.2985],[115.3,.2985],[116.6,.2996],[117.5,.3002],[118.5,.3008],[119.4,.2978],[120.4,.2984],[121.3,.296],[122.3,.2972],[123.2,.293],[124.2,.2912],[125.1,.2924],[126,.2906],[127,.2918],[127.9,.2894],[128.9,.2876],[129.8,.2852],[130.8,.2846],[131.7,.284],[132.6,.2846],[133.6,.2828],[134.5,.284],[135.5,.2846],[136.4,.2834],[137.4,.2816],[138.3,.2792],[139.2,.2828],[140.2,.2822],[141.1,.278],[142.1,.2828],[143,.2888],[144,.2882],[144.9,.2894],[145.9,.2912],[146.8,.2888],[147.7,.2924],[148.7,.2936],[149.6,.293],[150.6,.2948],[151.5,.2954],[152.5,.2936],[153.4,.29],[154.3,.2924],[155.3,.2942],[156.2,.2924],[157.2,.2912],[158.1,.2888],[159.1,.287],[160,.2846],[160.9,.2828],[161.9,.2816],[162.8,.2792],[163.8,.281],[164.7,.2804],[165.7,.2816],[166.6,.2828],[167.6,.284],[168.5,.284],[169.4,.2846],[170.4,.2888],[171.3,.2912],[172.3,.29],[173.2,.287],[174.2,.2876],[175.1,.29],[176,.2924],[177,.2942],[177.9,.296],[178.9,.2978],[179.8,.2984],[180.8,.296],[181.7,.293],[182.6,.2924],[183.6,.2954],[184.5,.2942],[185.5,.2924],[186.4,.2912],[187.4,.2894],[188.3,.29],[189.2,.29],[190.2,.2906],[191.1,.2912],[192.1,.29],[193,.2894],[194,.2888],[194.9,.29],[195.9,.2894],[196.8,.2882],[197.7,.2876],[198.7,.2864],[199.6,.2852],[200.6,.2858],[201.5,.287],[202.5,.2858],[203.4,.2876],[204.3,.2846],[205.3,.2774],[206.2,.2816],[207.2,.284],[208.1,.287],[209.1,.2894],[210,.2906],[210.9,.2912],[211.9,.29],[212.8,.2888],[213.8,.2864],[214.7,.284],[215.7,.2894],[216.6,.2846],[217.6,.2846],[218.5,.2864],[219.4,.287],[220.4,.2876],[221.3,.2858],[222.3,.2888],[223.2,.2894],[224.2,.29],[225.1,.2906],[226,.2906],[227,.2912],[227.9,.2894],[228.9,.2852],[229.8,.2846],[230.8,.284],[231.7,.284]];

// ---------- Axis ticks ----------
const sonarXTicks = [20, 40, 60, 80, 100, 120, 140];
const sonarYTicks = [0.22, 0.24, 0.26, 0.28, 0.30];
const laryngealXTicks = [20, 40, 60, 80, 100, 120, 140, 160];
const laryngealYTicks = [0.16, 0.18, 0.20, 0.22, 0.24, 0.26];
const votesXTicks = [50, 100, 150];
const votesYTicks = [0.04, 0.05, 0.06, 0.07, 0.08, 0.09, 0.10, 0.11, 0.12];
const breastXTicks = [50, 100, 150, 200];
const breastYTicks = [0.28, 0.30, 0.32, 0.34, 0.36, 0.38];

// ---------- Summary tables ----------
const methodNames = ["O-LDC", "Perceptron", "Balanced Winnow"];
const tableRowLabels = ["O-LDC", "Perceptron", "Winnow"];
const tableColumns = ["Average", "Final"];
const sonarAverage = [0.2474, 0.2772, 0.2824];
const sonarFinal = [0.2314, 0.2729, 2690];
const laryngealAverage = [0.1862, 0.2009, 0.2185];
const laryngealFinal = [0.1648, 0.1914, 0.2067];
const votesAverage = [0.0448, 0.0746, 0.0855];
const votesFinal = [0.0317, 0.0687, 0.0700];
const breastAverage = [0.2729, 0.3375, 0.2926];
const breastFinal = [0.2593, 0.3514, 0.2814];

// ---------- Drawing ----------
const lineColors = ["#2b57aa", "#45b152", "#c2375a"];
const serif = '"Liberation Serif", "Times New Roman", serif';
const sans = '"Liberation Sans", Arial, sans-serif';

const panels = [
  { key: "sonar", title: "Sonar", titleX: 236, titleY: 32,
    series: [sonarOLDC, sonarPerceptron, sonarWinnow],
    xDomain: [1, 150], yDomain: [0.2096, 0.3104],
    box: { left: 49, right: 455, top: 53, bottom: 374 },
    xTicks: sonarXTicks, yTicks: sonarYTicks, xPad: 8.5,
    table: { left: 25.5, div: 198, right: 444, top: 407 },
    avg: sonarAverage, fin: sonarFinal, legend: true },
  { key: "laryngeal", title: "Laryngeal1", titleX: 723, titleY: 32,
    series: [laryngealOLDC, laryngealPerceptron, laryngealWinnow],
    xDomain: [1, 160], yDomain: [0.1572, 0.2642],
    box: { left: 530, right: 935, top: 53, bottom: 374 },
    xTicks: laryngealXTicks, yTicks: laryngealYTicks, xPad: 8.5,
    table: { left: 514, div: 685.5, right: 932, top: 408 },
    avg: laryngealAverage, fin: laryngealFinal },
  { key: "votes", title: "Votes", titleX: 237, titleY: 652,
    series: [votesOLDC, votesPerceptron, votesWinnow],
    xDomain: [1, 175], yDomain: [0.0312, 0.1213],
    box: { left: 49, right: 456, top: 677, bottom: 996 },
    xTicks: votesXTicks, yTicks: votesYTicks, xPad: 8,
    table: { left: 26, div: 197, right: 445, top: 1028 },
    avg: votesAverage, fin: votesFinal },
  { key: "breast", title: "Breast", titleX: 724, titleY: 653,
    series: [breastOLDC, breastPerceptron, breastWinnow],
    xDomain: [1, 232], yDomain: [0.2658, 0.3818],
    box: { left: 538, right: 945, top: 675, bottom: 997 },
    xTicks: breastXTicks, yTicks: breastYTicks, xPad: 8,
    table: { left: 514, div: 686, right: 931, top: 1028 },
    avg: breastAverage, fin: breastFinal }
];

const svg = d3.select("#fig");
svg.append("rect").attr("width", 954).attr("height", 1174).attr("fill", "#fff");
const defs = svg.append("defs");

const tickFmt = d => String(+d.toFixed(2));
const cellFmt = v => (v >= 1 ? String(v) : v.toFixed(4));

panels.forEach(p => {
  const x = d3.scaleLinear().domain(p.xDomain).range([p.box.left, p.box.right]);
  const y = d3.scaleLinear().domain(p.yDomain).range([p.box.bottom, p.box.top]);
  const g = svg.append("g").attr("class", "panel-" + p.key);

  defs.append("clipPath").attr("id", "clip-" + p.key)
    .append("rect")
    .attr("x", p.box.left).attr("y", p.box.top - 2)
    .attr("width", p.box.right - p.box.left + 2)
    .attr("height", p.box.bottom - p.box.top + 3);

  // title
  g.append("text")
    .attr("x", p.titleX).attr("y", p.titleY)
    .attr("text-anchor", "middle")
    .attr("font-family", serif).attr("font-size", 29)
    .attr("letter-spacing", 0.5)
    .attr("fill", "#1e1e1e")
    .text(p.title);

  // error curves
  const line = d3.line().x(d => x(d[0])).y(d => y(d[1]));
  g.append("g").attr("clip-path", `url(#clip-${p.key})`)
    .selectAll("path").data(p.series).join("path")
    .attr("d", line)
    .attr("fill", "none")
    .attr("stroke", (d, i) => lineColors[i])
    .attr("stroke-width", 2)
    .attr("stroke-linejoin", "round");

  // axes (left and bottom only, ticks pointing inward)
  g.append("g")
    .attr("transform", `translate(${p.box.left},0)`)
    .call(d3.axisLeft(y).tickValues(p.yTicks).tickFormat(tickFmt)
      .tickSize(-4).tickSizeOuter(0).tickPadding(4));
  g.append("g")
    .attr("transform", `translate(0,${p.box.bottom})`)
    .call(d3.axisBottom(x).tickValues(p.xTicks).tickFormat(d3.format("d"))
      .tickSize(-4).tickSizeOuter(0).tickPadding(p.xPad));

  // legend
  if (p.legend) {
    const lg = g.append("g");
    lg.append("rect").attr("x", 267).attr("y", 57.5).attr("width", 183).attr("height", 68)
      .attr("fill", "#fff").attr("stroke", "#333").attr("stroke-width", 1);
    const rowsY = [70.5, 92.5, 114];
    methodNames.forEach((name, i) => {
      lg.append("line").attr("x1", 273).attr("x2", 300).attr("y1", rowsY[i]).attr("y2", rowsY[i])
        .attr("stroke", lineColors[i]).attr("stroke-width", 1.6);
      lg.append("text").attr("x", 301.5).attr("y", rowsY[i]).attr("dy", "0.36em")
        .attr("font-family", sans).attr("font-size", 17).attr("fill", "#1e1e1e")
        .text(name);
    });
  }

  // summary table
  const t = p.table;
  const tg = g.append("g");
  const hLines = [t.top, t.top + 37.5, t.top + 152];
  hLines.forEach(yy => {
    tg.append("line").attr("x1", t.left).attr("x2", t.right).attr("y1", yy).attr("y2", yy)
      .attr("stroke", "#262626").attr("stroke-width", 2);
  });
  [t.left, t.div, t.right].forEach(xx => {
    tg.append("line").attr("x1", xx).attr("x2", xx).attr("y1", t.top).attr("y2", t.top + 152)
      .attr("stroke", "#262626").attr("stroke-width", 1.4);
  });
  const colX = [(t.left + t.div) / 2, t.div + 68, t.div + 191];
  const textAttrs = sel => sel.attr("text-anchor", "middle").attr("font-family", serif)
    .attr("font-size", 30).attr("letter-spacing", 0.5).attr("fill", "#1e1e1e");
  tableColumns.forEach((c, j) => {
    tg.append("text").attr("x", colX[j + 1]).attr("y", t.top + 27).call(textAttrs).text(c);
  });
  const rowBase = [t.top + 65, t.top + 101.5, t.top + 138];
  tableRowLabels.forEach((r, i) => {
    tg.append("text").attr("x", colX[0]).attr("y", rowBase[i]).call(textAttrs).text(r);
    tg.append("text").attr("x", colX[1]).attr("y", rowBase[i]).call(textAttrs).text(cellFmt(p.avg[i]));
    tg.append("text").attr("x", colX[2]).attr("y", rowBase[i]).call(textAttrs).text(cellFmt(p.fin[i]));
  });
});
</script>
</body>
</html>
